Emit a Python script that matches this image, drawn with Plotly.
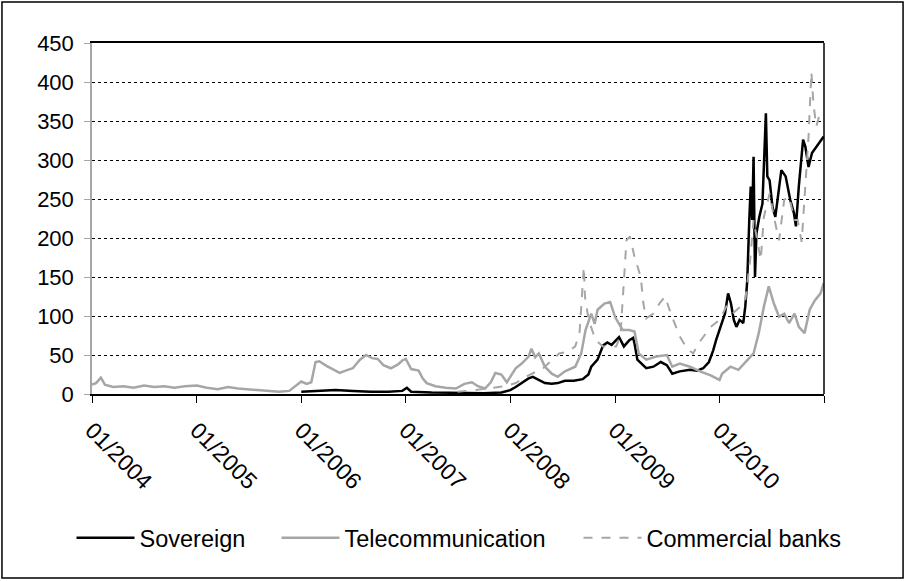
import plotly.graph_objects as go

# ---- data ----
tel_dates = ["2004-01-01","2004-01-15","2004-02-01","2004-02-15","2004-03-15","2004-04-20","2004-05-25",
             "2004-07-01","2004-08-05","2004-09-10","2004-10-15","2004-11-20","2005-01-01","2005-02-05",
             "2005-03-15","2005-04-20","2005-05-25","2005-07-01","2005-08-05","2005-09-10","2005-10-15",
             "2005-11-20","2005-12-10","2006-01-01","2006-01-20","2006-02-05","2006-02-20","2006-03-05",
             "2006-03-30","2006-04-25","2006-05-15","2006-06-05","2006-06-30","2006-07-25","2006-08-15",
             "2006-09-05","2006-09-25","2006-10-15","2006-11-10","2006-12-05","2006-12-20","2007-01-01",
             "2007-01-20","2007-02-15","2007-03-01","2007-03-15","2007-04-15","2007-05-20","2007-06-25",
             "2007-07-25","2007-08-20","2007-09-10","2007-10-05","2007-10-25","2007-11-10","2007-12-01",
             "2007-12-20","2008-01-01","2008-01-20","2008-02-10","2008-03-05","2008-03-15","2008-03-28",
             "2008-04-10","2008-05-01","2008-05-25","2008-06-15","2008-07-10","2008-08-15","2008-09-05",
             "2008-09-20","2008-10-10","2008-10-22","2008-11-01","2008-11-25","2008-12-15","2009-01-01",
             "2009-01-15","2009-01-28","2009-02-20","2009-03-10","2009-03-25","2009-04-20","2009-05-25",
             "2009-07-01","2009-07-20","2009-08-15","2009-09-20","2009-10-25","2009-12-01","2010-01-01",
             "2010-01-10","2010-02-08","2010-03-08","2010-04-08","2010-04-30","2010-05-18","2010-06-05",
             "2010-06-22","2010-07-10","2010-07-28","2010-08-15","2010-09-01","2010-09-20","2010-10-05",
             "2010-10-25","2010-11-12","2010-11-30","2010-12-20","2010-12-31"]
tel_values = [12,14,21,12,9,10,8,
              11,9,10,8,10,11,8,
              6,9,7,6,5,4,3,
              4,10,16,13,15,41,42,
              36,31,27,30,33,44,50,
              46,45,37,33,38,43,45,
              32,30,20,14,10,8,7,
              13,15,10,7,15,27,25,
              15,22,33,39,48,58,47,
              52,35,26,22,29,35,52,
              82,103,90,108,116,118,99,
              90,82,82,80,52,44,48,
              50,35,39,35,29,24,18,
              26,35,31,44,52,78,112,
              138,116,99,103,91,103,86,
              78,108,120,129,142]

sov_dates = ["2006-01-01","2006-03-01","2006-05-01","2006-07-01","2006-09-01","2006-11-01","2006-12-20",
             "2007-01-05","2007-01-20","2007-04-01","2007-07-01","2007-10-01","2007-12-01","2008-01-01",
             "2008-01-20","2008-02-10","2008-03-05","2008-03-20","2008-04-10","2008-05-01","2008-05-25",
             "2008-06-15","2008-07-10","2008-08-10","2008-09-10","2008-09-30","2008-10-10","2008-11-01",
             "2008-11-20","2008-12-05","2008-12-20","2009-01-15","2009-02-01","2009-02-20","2009-03-05",
             "2009-03-10","2009-03-20","2009-04-20","2009-05-15","2009-06-10","2009-07-01","2009-07-20",
             "2009-08-15","2009-09-20","2009-10-15","2009-11-05","2009-11-25","2009-12-10","2009-12-20",
             "2010-01-01","2010-01-10","2010-01-20","2010-01-31","2010-02-10","2010-02-20","2010-03-01",
             "2010-03-12","2010-03-25","2010-04-01","2010-04-08","2010-04-15","2010-04-20","2010-04-25",
             "2010-04-30","2010-05-05","2010-05-10","2010-05-20","2010-05-31","2010-06-12","2010-06-17",
             "2010-06-25","2010-07-05","2010-07-15","2010-07-25","2010-08-05","2010-08-20","2010-09-05",
             "2010-09-18","2010-09-25","2010-10-05","2010-10-20","2010-10-28","2010-11-08","2010-11-20",
             "2010-12-31"]
sov_values = [3,4,5,4,3,3,4,
              8,3,2,1.5,1,2,5,
              9,14,20,22,18,14,13,
              14,17,17,19,25,35,44,
              62,66,63,73,61,69,72,
              65,44,33,35,41,37,26,
              29,31,30,33,41,56,69,
              82,91,103,129,116,95,86,
              95,91,112,146,223,266,223,
              304,150,206,227,244,360,279,
              274,240,227,253,287,279,249,
              232,215,266,326,317,291,309,
              330]

bank_dates = ["2007-07-01","2007-09-01","2007-11-01","2007-12-15","2008-01-20","2008-03-05","2008-04-25",
              "2008-06-10","2008-06-20","2008-07-20","2008-08-15","2008-08-30","2008-09-08","2008-09-14",
              "2008-09-18","2008-10-01","2008-10-25","2008-11-20","2008-12-15","2009-01-05","2009-01-20",
              "2009-02-01","2009-02-10","2009-02-22","2009-03-10","2009-04-01","2009-04-10","2009-04-20",
              "2009-05-15","2009-06-05","2009-06-25","2009-07-15","2009-08-15","2009-09-10","2009-10-01",
              "2009-10-20","2009-12-01","2010-01-01","2010-01-25","2010-02-15","2010-03-15","2010-04-01",
              "2010-04-18","2010-04-30","2010-05-15","2010-05-25","2010-06-05","2010-06-25","2010-07-10",
              "2010-07-28","2010-08-15","2010-09-01","2010-09-20","2010-10-01","2010-10-15","2010-10-25",
              "2010-11-08","2010-11-18","2010-11-25","2010-12-05","2010-12-18","2010-12-31"]
bank_values = [3,5,8,10,14,24,33,
               48,52,54,61,78,138,163,
               125,95,69,61,61,61,75,
               138,197,202,176,150,116,97,
               103,116,125,103,74,58,52,
               65,86,95,112,103,112,120,
               172,223,193,172,227,257,227,
               197,249,253,223,223,195,257,
               330,413,372,343,360,356]

tick_dates = ["2004-01-01","2005-01-01","2006-01-01","2007-01-01","2008-01-01","2009-01-01","2010-01-01","2011-01-01"]
tick_labels = ["01/2004","01/2005","01/2006","01/2007","01/2008","01/2009","01/2010",""]
y_ticks = [0,50,100,150,200,250,300,350,400,450]

GRAY = "#a6a6a6"
FONT = "Liberation Sans, Arial, sans-serif"

fig = go.Figure()
fig.add_trace(go.Scatter(x=sov_dates, y=sov_values, mode="lines", name="Sovereign",
                         legendwidth=132, line=dict(color="black", width=2.5)))
fig.add_trace(go.Scatter(x=tel_dates, y=tel_values, mode="lines", name="Telecommunication",
                         legendwidth=229, line=dict(color=GRAY, width=2.5)))
fig.add_trace(go.Scatter(x=bank_dates, y=bank_values, mode="lines", name="Commercial banks",
                         line=dict(color=GRAY, width=2, dash="dash")))

fig.update_layout(
    width=905, height=581,
    margin=dict(l=92, r=81, t=43, b=187),
    paper_bgcolor="white", plot_bgcolor="white",
    font=dict(family=FONT, size=22, color="black"),
    showlegend=True,
    legend=dict(orientation="h", x=-0.028, y=-0.41, xanchor="left", yanchor="middle",
                font=dict(size=23.5), itemwidth=58, traceorder="normal"),
    xaxis=dict(type="date", range=["2004-01-01", "2011-01-01"],
               tickmode="array", tickvals=tick_dates, ticktext=tick_labels,
               tickangle=45, ticks="outside", ticklen=7, tickcolor="black", tickwidth=1,
               ticklabelstandoff=5, tickfont=dict(size=23),
               showline=True, linecolor="black", linewidth=1.5, mirror=True,
               showgrid=False, zeroline=False),
    yaxis=dict(range=[0, 450], tickvals=y_ticks, ticks="outside", ticklen=6,
               tickcolor=GRAY, showline=True, linecolor=GRAY, linewidth=1.5,
               showgrid=True, gridcolor="black", gridwidth=1, griddash="dot",
               zeroline=False, ticklabelstandoff=6),
)
# right border of plot area
fig.add_shape(type="line", xref="paper", yref="paper", x0=1, x1=1, y0=0, y1=1,
              line=dict(color="black", width=1.5))
# outer frame of the figure
fig.add_shape(type="rect", xref="paper", yref="paper",
              x0=-0.123, x1=1.108, y0=-0.524, y1=1.117,
              line=dict(color="black", width=1.5), fillcolor="rgba(0,0,0,0)")

fig.write_html("out.html", config={"displayModeBar": False},
               post_script="document.body.style.margin='0';")
